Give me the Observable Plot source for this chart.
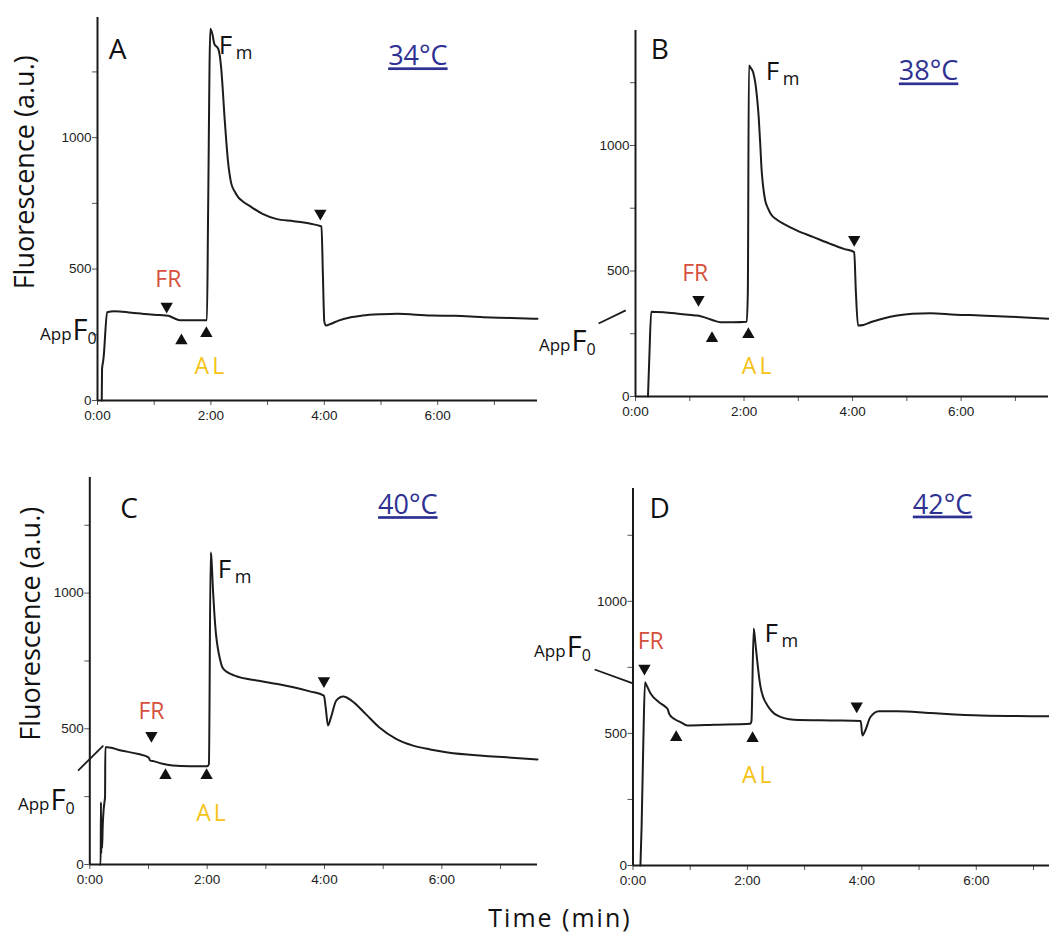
<!DOCTYPE html>
<html><head><meta charset="utf-8">
<script src="https://cdn.jsdelivr.net/npm/d3@7"></script>
<script src="https://cdn.jsdelivr.net/npm/@observablehq/plot@0.6"></script>
<style>
body{margin:0;background:#fff;}
#fig{position:relative;width:1049px;height:938px;background:#fff;overflow:hidden;}
#fig .panel{position:absolute;}
#xtitle{position:absolute;left:0;width:1120px;top:900px;text-align:center;font-family:"Open Sans",sans-serif;font-size:25px;letter-spacing:2px;color:#111;}
</style></head><body><div id="fig"><div id="xtitle">Time (min)</div></div>
<script>
// ---------- axis ticks ----------
const minuteTicks = [0,1,2,3,4,5,6,7];
const minuteLabels = [0,2,4,6];
const fluorTicks = [0,250,500,750,1000,1250];
const fluorLabels = [0,500,1000];

// ---------- labels ----------
const panelLetters = ["A","B","C","D"];
const temperatures = ["34°C","38°C","40°C","42°C"];

// ---------- traces (time in min, fluorescence a.u.) ----------
const timeA  = [0.075,0.08,0.10,0.11,0.17,0.30,0.60,0.90,1.10,1.25,1.35,1.46,1.70,1.93,1.95,1.99,2.03,2.06,2.13,2.18,2.21,2.24,2.27,2.30,2.33,2.36,2.42,2.48,2.57,2.67,2.91,3.15,3.46,3.76,3.95,3.975,4.00,4.03,4.12,4.25,4.45,4.67,5.00,5.28,5.89,6.30,6.80,7.30,7.76];
const fluorA = [0,120,150,170,336,340,334,328,325,322,313,305,305,305,700,1414,1390,1357,1338,1268,1180,1078,990,913,860,825,795,774,756,742,710,691,682,672,662,480,300,285,292,304,316,323,328,330,323,322,317,314,311];

const timeB  = [0.23,0.255,0.29,0.52,0.83,1.10,1.20,1.44,1.56,1.80,2.05,2.07,2.09,2.12,2.17,2.21,2.24,2.27,2.30,2.32,2.35,2.39,2.44,2.49,2.60,2.73,2.98,3.28,3.59,3.84,4.03,4.06,4.10,4.20,4.33,4.55,4.82,5.10,5.43,5.90,6.35,6.90,7.61];
const fluorB = [0,157,338,336,329,323,320,303,296,296,298,420,1319,1310,1290,1246,1190,1113,1000,914,840,781,750,728,705,688,661,635,608,588,575,420,283,285,296,310,323,330,332,326,323,318,310];

const timeC  = [0.17,0.185,0.19,0.195,0.20,0.21,0.22,0.235,0.25,0.26,0.265,0.30,0.53,0.83,1.00,1.03,1.10,1.24,1.41,1.70,2.00,2.03,2.06,2.07,2.10,2.12,2.15,2.18,2.22,2.26,2.35,2.47,2.88,3.20,3.47,3.75,3.99,4.02,4.06,4.11,4.20,4.32,4.46,4.70,4.93,5.22,5.51,5.80,6.10,6.69,7.10,7.63];
const fluorC = [0,0,230,40,150,60,140,200,230,250,432,432,420,407,395,383,380,371,365,362,362,370,1150,1135,1010,935,850,800,755,726,708,696,677,665,653,638,622,579,512,542,604,619,604,555,506,463,438,424,413,401,395,387];

const timeD  = [0.13,0.15,0.18,0.21,0.22,0.31,0.45,0.57,0.61,0.63,0.71,0.83,0.95,1.41,2.05,2.07,2.11,2.14,2.17,2.20,2.23,2.28,2.35,2.43,2.52,2.81,3.45,3.98,4.01,4.06,4.15,4.30,4.62,5.20,6.08,7.28];
const fluorD = [0,145,461,694,690,650,619,600,590,575,556,543,530,533,537,545,897,840,777,720,675,635,606,583,568,552,549,547,492,511,562,584,584,577,568,565];

// ---------- event arrowheads ----------
const arrowsA = [{t:1.22,v:358,dir:"down"},{t:1.48,v:228,dir:"up"},{t:1.92,v:255,dir:"up"},{t:3.93,v:712,dir:"down"}];
const arrowsB = [{t:1.16,v:386,dir:"down"},{t:1.41,v:231,dir:"up"},{t:2.08,v:247,dir:"up"},{t:4.03,v:625,dir:"down"}];
const arrowsC = [{t:1.05,v:475,dir:"down"},{t:1.29,v:328,dir:"up"},{t:1.99,v:328,dir:"up"},{t:3.99,v:677,dir:"down"}];
const arrowsD = [{t:0.20,v:746,dir:"down"},{t:0.755,v:485,dir:"up"},{t:2.09,v:481,dir:"up"},{t:3.91,v:603,dir:"down"}];

const traces = [[timeA,fluorA],[timeB,fluorB],[timeC,fluorC],[timeD,fluorD]];
const arrows = [arrowsA,arrowsB,arrowsC,arrowsD];

// ---------- layout & annotation anchors (data coords) ----------
const panels = [
  {left:0,top:0,width:540,height:440,ml:97,mr:3,mt:17,mb:40,xMax:7.76,yMax:1457,
   letter:[0.20,1300], fm:[2.14,1319], temp:[5.65,1275], fr:[1.25,431], al:[2.00,102], app:[-0.44,232], lead:null, ylab:[-1.27,868]},
  {left:530,top:0,width:519,height:440,ml:105,mr:1,mt:30,mb:44,xMax:7.61,yMax:1458,
   letter:[0.28,1345], fm:[2.40,1259], temp:[5.40,1259], fr:[1.10,462], al:[2.26,90], app:[-1.18,183], lead:[-0.68,291,-0.18,343], ylab:null},
  {left:0,top:455,width:540,height:440,ml:89.3,mr:3,mt:22,mb:31,xMax:7.63,yMax:1426,
   letter:[0.52,1277], fm:[2.18,1056], temp:[5.42,1291], fr:[1.05,536], al:[2.09,159], app:[-0.67,199], lead:[-0.20,346,0.23,438], ylab:[-0.99,887]},
  {left:530,top:455,width:519,height:440,ml:102.5,mr:0,mt:33,mb:30,xMax:7.28,yMax:1427,
   letter:[0.29,1317], fm:[2.30,846], temp:[5.41,1332], fr:[0.31,821], al:[2.19,312], app:[-1.16,789], lead:[-0.67,742,-0.014,690], ylab:null}
];

const ANN = "Open Sans";
function txt(pt, text, o) {
  return Plot.text([{t:pt[0], v:pt[1]}], Object.assign({x:"t", y:"v", text:() => text, fontFamily:ANN, lineAnchor:"bottom", fill:"#111"}, o));
}

const fig = document.getElementById("fig");
panels.forEach((p, i) => {
  const [ts, vs] = traces[i];
  const series = ts.map((t, k) => ({t, v: vs[k]}));
  const marks = [
    Plot.axisX({ticks: minuteTicks, tickSize:5, tickPadding:5, label:null, fontSize:13.5, fontFamily:"Liberation Sans", fill:"#222", stroke:"#555",
      tickFormat: d => minuteLabels.includes(d) ? `${d}:00` : ""}),
    Plot.axisY({ticks: fluorTicks, tickSize:5, tickPadding:1, label:null, fontSize:13.5, fontFamily:"Liberation Sans", fill:"#222", stroke:"#555",
      tickFormat: d => fluorLabels.includes(d) ? `${d}` : ""}),
    Plot.ruleX([0], {stroke:"#1a1a1a", strokeWidth:2}),
    Plot.ruleY([0], {stroke:"#1a1a1a", strokeWidth:2}),
    Plot.line(series, {x:"t", y:"v", stroke:"#1c1c1c", strokeWidth:2, curve:"monotone-x"}),
    Plot.dot(arrows[i], {x:"t", y:"v", symbol:"triangle", r:4.6, fill:"#111", stroke:null, rotate: d => d.dir === "down" ? 180 : 0}),
    txt(p.letter, panelLetters[i], {fontSize:28, textAnchor:"start"}),
    txt(p.fm, "F", {fontSize:26, textAnchor:"start"}),
    txt(p.fm, "m", {fontSize:18, textAnchor:"start", dx:17, dy:5}),
    txt(p.temp, temperatures[i], {fontSize:27, textAnchor:"middle", fill:"#2e3192"}),
    txt(p.fr, "FR", {fontSize:23, textAnchor:"middle", fill:"#d6503c"}),
    txt(p.al, "AL", {fontSize:23, textAnchor:"middle", fill:"#f5c316"}),
    txt(p.app, "App", {fontSize:17, textAnchor:"end", dx:-1}),
    txt(p.app, "F", {fontSize:29, textAnchor:"start"}),
    txt(p.app, "0", {fontSize:16, textAnchor:"start", dx:15, dy:4})
  ];
  if (p.lead) marks.push(Plot.link([p.lead], {x1:d=>d[0], y1:d=>d[1], x2:d=>d[2], y2:d=>d[3], stroke:"#1a1a1a", strokeWidth:1.8}));
  if (p.ylab) marks.push(Plot.text([{t:p.ylab[0], v:p.ylab[1]}], {x:"t", y:"v", text:() => "Fluorescence (a.u.)", rotate:-90, fontSize:27, fontFamily:ANN, fill:"#111", textAnchor:"middle", lineAnchor:"middle"}));
  const svg = Plot.plot({
    width:p.width, height:p.height,
    marginLeft:p.ml, marginRight:p.mr, marginTop:p.mt, marginBottom:p.mb,
    x:{domain:[0,p.xMax], label:null},
    y:{domain:[0,p.yMax], label:null},
    style:{background:"transparent", overflow:"visible", color:"#333"},
    marks
  });
  svg.classList.add("panel");
  svg.style.left = p.left + "px";
  svg.style.top = p.top + "px";
  svg.querySelectorAll("text").forEach(el => {
    const s = el.textContent;
    if (temperatures.includes(s)) {
      el.style.textDecoration = "underline";
      el.style.textDecorationThickness = "3px";
      el.style.textUnderlineOffset = "4px";
    }
    if (s === "AL") el.style.letterSpacing = "3px";
  });
  fig.appendChild(svg);
});
</script></body></html>
